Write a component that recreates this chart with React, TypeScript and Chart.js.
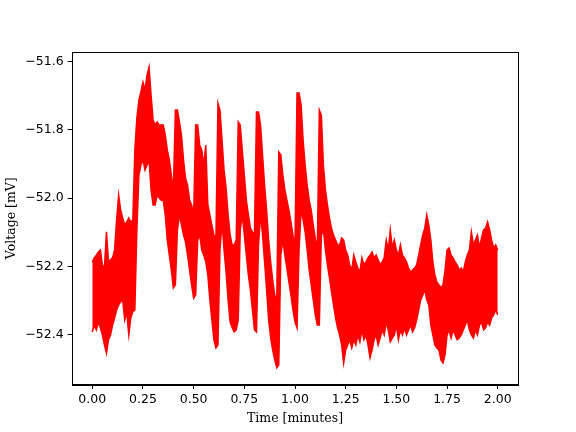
import React, { useEffect, useRef } from "react";
import { Chart, registerables } from "chart.js";

Chart.register(...registerables);

// Time samples [minutes]
const timeMinutes = [
  0.00, 0.01, 0.02, 0.03, 0.04, 0.05, 0.06, 0.07, 0.08, 0.09,
  0.10, 0.11, 0.12, 0.13, 0.14, 0.15, 0.16, 0.17, 0.18, 0.19,
  0.20, 0.21, 0.22, 0.23, 0.24, 0.25, 0.26, 0.27, 0.28, 0.29,
  0.30, 0.31, 0.32, 0.33, 0.34, 0.35, 0.36, 0.37, 0.38, 0.39,
  0.40, 0.41, 0.42, 0.43, 0.44, 0.45, 0.46, 0.47, 0.48, 0.49,
  0.50, 0.51, 0.52, 0.53, 0.54, 0.55, 0.56, 0.57, 0.58, 0.59,
  0.60, 0.61, 0.62, 0.63, 0.64, 0.65, 0.66, 0.67, 0.68, 0.69,
  0.70, 0.71, 0.72, 0.73, 0.74, 0.75, 0.76, 0.77, 0.78, 0.79,
  0.80, 0.81, 0.82, 0.83, 0.84, 0.85, 0.86, 0.87, 0.88, 0.89,
  0.90, 0.91, 0.92, 0.93, 0.94, 0.95, 0.96, 0.97, 0.98, 0.99,
  1.00, 1.01, 1.02, 1.03, 1.04, 1.05, 1.06, 1.07, 1.08, 1.09,
  1.10, 1.11, 1.12, 1.13, 1.14, 1.15, 1.16, 1.17, 1.18, 1.19,
  1.20, 1.21, 1.22, 1.23, 1.24, 1.25, 1.26, 1.27, 1.28, 1.29,
  1.30, 1.31, 1.32, 1.33, 1.34, 1.35, 1.36, 1.37, 1.38, 1.39,
  1.40, 1.41, 1.42, 1.43, 1.44, 1.45, 1.46, 1.47, 1.48, 1.49,
  1.50, 1.51, 1.52, 1.53, 1.54, 1.55, 1.56, 1.57, 1.58, 1.59,
  1.60, 1.61, 1.62, 1.63, 1.64, 1.65, 1.66, 1.67, 1.68, 1.69,
  1.70, 1.71, 1.72, 1.73, 1.74, 1.75, 1.76, 1.77, 1.78, 1.79,
  1.80, 1.81, 1.82, 1.83, 1.84, 1.85, 1.86, 1.87, 1.88, 1.89,
  1.90, 1.91, 1.92, 1.93, 1.94, 1.95, 1.96, 1.97, 1.98, 1.99,
  2.00,
];

// Upper envelope of the voltage trace [mV]
const voltageUpper = [
  -52.187, -52.175, -52.167, -52.158, -52.152, -52.196, -52.205, -52.099, -52.187, -52.181,
  -52.175, -52.152, -52.064, -51.991, -52.035, -52.058, -52.079, -52.070, -52.058, -52.070,
  -52.064, -51.859, -51.765, -51.713, -51.689, -51.660, -51.683, -51.640, -51.616, -51.698,
  -51.771, -51.786, -51.777, -51.786, -51.786, -51.786, -51.815, -51.859, -51.888, -51.932,
  -51.976, -51.742, -51.742, -51.777, -51.815, -51.888, -51.941, -51.962, -52.006, -52.020,
  -52.049, -51.786, -51.786, -51.845, -51.859, -51.903, -51.845, -52.020, -52.049, -52.079,
  -52.108, -52.117, -51.722, -51.742, -51.830, -51.918, -51.970, -52.049, -52.108, -52.137,
  -52.137, -52.123, -51.777, -51.786, -51.859, -51.932, -52.006, -52.049, -52.088, -52.099,
  -52.108, -51.748, -51.748, -51.786, -51.874, -51.962, -52.035, -52.123, -52.187, -52.240,
  -52.284, -52.298, -51.865, -51.874, -51.932, -51.976, -52.006, -52.035, -52.070, -52.108,
  -52.137, -51.692, -51.692, -51.727, -51.830, -51.903, -51.962, -52.006, -52.035, -52.079,
  -52.117, -52.152, -51.742, -51.757, -51.903, -51.976, -52.020, -52.058, -52.088, -52.108,
  -52.123, -52.137, -52.137, -52.117, -52.123, -52.152, -52.167, -52.196, -52.211, -52.167,
  -52.187, -52.205, -52.216, -52.175, -52.196, -52.187, -52.175, -52.167, -52.158, -52.175,
  -52.167, -52.181, -52.196, -52.187, -52.175, -52.123, -52.152, -52.093, -52.146, -52.123,
  -52.152, -52.167, -52.137, -52.167, -52.175, -52.187, -52.205, -52.216, -52.211, -52.205,
  -52.196, -52.167, -52.137, -52.108, -52.088, -52.049, -52.079, -52.123, -52.187, -52.225,
  -52.246, -52.254, -52.263, -52.254, -52.211, -52.152, -52.146, -52.167, -52.175, -52.187,
  -52.196, -52.211, -52.205, -52.216, -52.187, -52.167, -52.152, -52.099, -52.137, -52.123,
  -52.108, -52.146, -52.117, -52.093, -52.088, -52.070, -52.093, -52.123, -52.146, -52.137,
  -52.152,
];

// Lower envelope of the voltage trace [mV]
const voltageLower = [
  -52.392, -52.372, -52.386, -52.363, -52.380, -52.401, -52.430, -52.454, -52.415, -52.401,
  -52.372, -52.351, -52.328, -52.313, -52.304, -52.298, -52.357, -52.333, -52.401, -52.351,
  -52.333, -52.328, -52.093, -51.932, -51.903, -51.888, -51.918, -51.903, -51.888, -51.976,
  -52.020, -52.020, -51.991, -52.000, -52.006, -52.006, -52.049, -52.123, -52.167, -52.211,
  -52.263, -52.254, -52.093, -52.049, -52.079, -52.108, -52.129, -52.167, -52.211, -52.254,
  -52.293, -52.284, -52.123, -52.108, -52.152, -52.167, -52.187, -52.225, -52.298, -52.357,
  -52.415, -52.439, -52.430, -52.152, -52.070, -52.152, -52.216, -52.298, -52.363, -52.380,
  -52.392, -52.386, -52.357, -52.093, -52.049, -52.108, -52.167, -52.225, -52.269, -52.328,
  -52.386, -52.392, -52.137, -52.049, -52.108, -52.187, -52.269, -52.357, -52.410, -52.445,
  -52.474, -52.497, -52.489, -52.167, -52.123, -52.167, -52.205, -52.246, -52.284, -52.328,
  -52.363, -52.380, -52.152, -52.035, -52.064, -52.099, -52.152, -52.211, -52.254, -52.298,
  -52.342, -52.372, -52.372, -52.108, -52.093, -52.152, -52.196, -52.234, -52.275, -52.313,
  -52.351, -52.380, -52.401, -52.430, -52.483, -52.445, -52.430, -52.415, -52.439, -52.415,
  -52.430, -52.401, -52.421, -52.386, -52.415, -52.401, -52.430, -52.468, -52.445, -52.415,
  -52.401, -52.430, -52.410, -52.386, -52.401, -52.363, -52.386, -52.421, -52.410, -52.401,
  -52.372, -52.415, -52.386, -52.401, -52.380, -52.401, -52.386, -52.372, -52.392, -52.380,
  -52.357, -52.328, -52.298, -52.284, -52.269, -52.298, -52.313, -52.372, -52.401, -52.430,
  -52.439, -52.445, -52.474, -52.483, -52.459, -52.401, -52.386, -52.410, -52.386, -52.401,
  -52.415, -52.410, -52.401, -52.386, -52.372, -52.357, -52.386, -52.401, -52.410, -52.386,
  -52.401, -52.372, -52.363, -52.386, -52.380, -52.363, -52.372, -52.351, -52.342, -52.328,
  -52.342,
];

const xTickValues = [0, 0.25, 0.5, 0.75, 1.0, 1.25, 1.5, 1.75, 2.0];
const yTickValues = [-52.4, -52.2, -52.0, -51.8, -51.6];

const X_MIN = -0.1;
const X_MAX = 2.1;
const Y_MIN = -52.546;
const Y_MAX = -51.572;

const fmt = (v: number, d: number) => {
  const s = Math.abs(v).toFixed(d);
  return v < 0 ? "\u2212" + s : s;
};

const framePlugin = {
  id: "frame",
  afterDraw(chart: any) {
    const { ctx, chartArea } = chart;
    ctx.save();
    ctx.strokeStyle = "#000";
    ctx.lineWidth = 1;
    ctx.strokeRect(
      Math.round(chartArea.left) + 0.5,
      Math.round(chartArea.top) + 0.5,
      Math.round(chartArea.right - chartArea.left),
      Math.round(chartArea.bottom - chartArea.top)
    );
    ctx.restore();
  },
};

export default function App() {
  const canvasRef = useRef<HTMLCanvasElement | null>(null);

  useEffect(() => {
    document.body.style.margin = "0";
    const canvas = canvasRef.current;
    if (!canvas) return;

    const upper = timeMinutes.map((t, i) => ({ x: t, y: voltageUpper[i] }));
    const lower = timeMinutes.map((t, i) => ({ x: t, y: voltageLower[i] }));

    const tickFont = { family: "'DejaVu Sans', sans-serif", size: 12.5 };
    const titleFont = { family: "'DejaVu Serif', serif", size: 12.5 };

    const chart = new Chart(canvas, {
      type: "line",
      data: {
        datasets: [
          {
            data: upper,
            borderColor: "#ff0000",
            backgroundColor: "#ff0000",
            borderWidth: 1.5,
            pointRadius: 0,
            tension: 0,
            fill: "+1",
          },
          {
            data: lower,
            borderColor: "#ff0000",
            backgroundColor: "#ff0000",
            borderWidth: 1.5,
            pointRadius: 0,
            tension: 0,
            fill: false,
          },
        ],
      },
      options: {
        animation: false,
        responsive: false,
        maintainAspectRatio: false,
        layout: { padding: { top: 52, right: 58, left: 0, bottom: 0 } },
        plugins: {
          legend: { display: false },
          tooltip: { enabled: false },
        },
        scales: {
          x: {
            type: "linear",
            min: X_MIN,
            max: X_MAX,
            afterFit(scale: any) {
              scale.height = 47.5;
            },
            afterBuildTicks(scale: any) {
              scale.ticks = xTickValues.map((v) => ({ value: v }));
            },
            grid: {
              display: true,
              drawOnChartArea: false,
              drawTicks: true,
              tickLength: 4.4,
              color: "#000",
              lineWidth: 1,
            },
            border: { display: true, color: "#000", width: 1 },
            ticks: {
              font: tickFont,
              color: "#000",
              padding: 3,
              maxRotation: 0,
              autoSkip: false,
              callback: (v: any) => fmt(Number(v), 2),
            },
            title: {
              display: true,
              text: "Time [minutes]",
              font: titleFont,
              color: "#000",
              padding: { top: 0, bottom: 6 },
            },
          },
          y: {
            type: "linear",
            min: Y_MIN,
            max: Y_MAX,
            afterFit(scale: any) {
              scale.width = 72;
            },
            afterBuildTicks(scale: any) {
              scale.ticks = yTickValues.map((v) => ({ value: v }));
            },
            grid: {
              display: true,
              drawOnChartArea: false,
              drawTicks: true,
              tickLength: 4.4,
              color: "#000",
              lineWidth: 1,
            },
            border: { display: true, color: "#000", width: 1 },
            ticks: {
              font: tickFont,
              color: "#000",
              padding: 4,
              autoSkip: false,
              callback: (v: any) => fmt(Number(v), 1),
            },
            title: {
              display: true,
              text: "Voltage [mV]",
              font: titleFont,
              color: "#000",
              padding: { top: 4, bottom: 0 },
            },
          },
        },
      },
      plugins: [framePlugin],
    });

    return () => chart.destroy();
  }, []);

  return (
    <div style={{ width: 576, height: 432 }}>
      <canvas ref={canvasRef} width={576} height={432} />
    </div>
  );
}
